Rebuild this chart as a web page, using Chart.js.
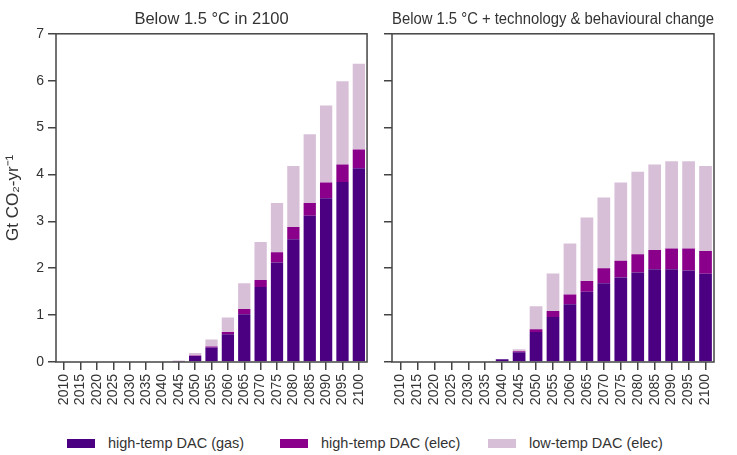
<!DOCTYPE html>
<html>
<head>
<meta charset="utf-8">
<script src="https://cdn.jsdelivr.net/npm/chart.js@4.4.1/dist/chart.umd.min.js"></script>
<style>
  body { margin: 0; background: #fff; width: 737px; height: 455px; position: relative; overflow: hidden;
         font-family: "Liberation Sans", Arial, sans-serif; }
  canvas { position: absolute; top: 0; }
  #left { left: 0; }
  #right { left: 370px; }
  .item { position: absolute; top: 433px; height: 20px; display: flex; align-items: center;
          font-size: 14.5px; color: #333; }
  .sw { width: 28px; height: 9px; margin-right: 13px; }
</style>
</head>
<body>
<canvas id="left" width="380" height="412"></canvas>
<canvas id="right" width="367" height="412"></canvas>
<div class="item" style="left:67px"><span class="sw" style="background:#4b0082"></span>high-temp DAC (gas)</div>
<div class="item" style="left:280px"><span class="sw" style="background:#8b008b"></span>high-temp DAC (elec)</div>
<div class="item" style="left:488px"><span class="sw" style="background:#d8bfd8"></span>low-temp DAC (elec)</div>
<script>
// years on the x axis
const years = ['2010', '2015', '2020', '2025', '2030', '2035', '2040', '2045', '2050', '2055',
               '2060', '2065', '2070', '2075', '2080', '2085', '2090', '2095', '2100'];

// Below 1.5 C in 2100 (Gt CO2/yr)
const gas15 = [0, 0, 0, 0, 0, 0, 0, 0.01, 0.13, 0.31, 0.59, 1.02, 1.60, 2.12, 2.62, 3.12, 3.49, 3.84, 4.13];
const elec15 = [0, 0, 0, 0, 0, 0, 0, 0, 0.01, 0.02, 0.05, 0.11, 0.15, 0.22, 0.26, 0.27, 0.34, 0.37, 0.40];
const low15 = [0, 0, 0, 0, 0, 0, 0, 0.02, 0.05, 0.15, 0.31, 0.55, 0.81, 1.05, 1.30, 1.47, 1.64, 1.78, 1.83];

// Below 1.5 C + technology & behavioural change
const gasTB = [0, 0, 0, 0, 0, 0, 0.06, 0.21, 0.64, 0.96, 1.23, 1.50, 1.68, 1.80, 1.91, 1.98, 1.98, 1.95, 1.88];
const elecTB = [0, 0, 0, 0, 0, 0, 0, 0.02, 0.06, 0.13, 0.21, 0.23, 0.32, 0.36, 0.39, 0.41, 0.44, 0.47, 0.49];
const lowTB = [0, 0, 0, 0, 0, 0, 0, 0.04, 0.49, 0.80, 1.09, 1.35, 1.51, 1.67, 1.76, 1.82, 1.86, 1.86, 1.81];

const yMax = 7;

// box round the plot area
const frame = {
    id: 'frame',
    afterDraw(chart) {
        const { ctx, chartArea: a } = chart;
        ctx.save();
        ctx.strokeStyle = '#444';
        ctx.lineWidth = 1.5;
        ctx.strokeRect(a.left, a.top, a.right - a.left, a.bottom - a.top);
        ctx.restore();
    }
};

const tickGrid = { display: true, drawOnChartArea: false, drawTicks: true, tickLength: 8, color: '#444', lineWidth: 1.5 };

function makeChart(id, title, gas, elec, low, yWidth, rightPad, showY) {
    return new Chart(document.getElementById(id), {
        type: 'bar',
        data: {
            labels: years,
            datasets: [
                { label: 'high-temp DAC (gas)', data: gas, backgroundColor: '#4b0082' },
                { label: 'high-temp DAC (elec)', data: elec, backgroundColor: '#8b008b' },
                { label: 'low-temp DAC (elec)', data: low, backgroundColor: '#d8bfd8' }
            ]
        },
        options: {
            responsive: false,
            animation: false,
            barPercentage: 0.75,
            categoryPercentage: 1,
            layout: { padding: { left: 0, right: rightPad, top: 0, bottom: 0 } },
            plugins: {
                legend: { display: false },
                tooltip: { enabled: false },
                title: {
                    display: true, text: title, fullSize: false, color: '#333',
                    font: { family: 'Liberation Sans', size: 16.5, weight: 'normal' },
                    padding: { top: 10, bottom: 4 }
                }
            },
            scales: {
                x: {
                    stacked: true,
                    offset: true,
                    grid: { ...tickGrid, offset: false },
                    border: { display: false },
                    ticks: { minRotation: 90, maxRotation: 90, autoSkip: false, padding: 4, color: '#333',
                             font: { family: 'Liberation Sans', size: 14 } },
                    afterFit(s) { s.height = 50; }
                },
                y: {
                    stacked: true,
                    min: 0,
                    max: yMax,
                    grid: tickGrid,
                    border: { display: false },
                    ticks: { stepSize: 1, padding: 4, color: '#333',
                             font: { family: 'Liberation Sans', size: 14 },
                             callback: v => showY ? v : '' },
                    title: { display: showY, text: 'Gt CO₂-yr⁻¹', color: '#333',
                             font: { family: 'Liberation Sans', size: 17 }, padding: { top: 3 } },
                    afterFit(s) { s.width = yWidth; }
                }
            }
        },
        plugins: [frame]
    });
}

makeChart('left', 'Below 1.5 °C in 2100', gas15, elec15, low15, 56, 3, true);
makeChart('right', 'Below 1.5 °C + technology & behavioural change', gasTB, elecTB, lowTB, 22, 23, false);
</script>
</body>
</html>
